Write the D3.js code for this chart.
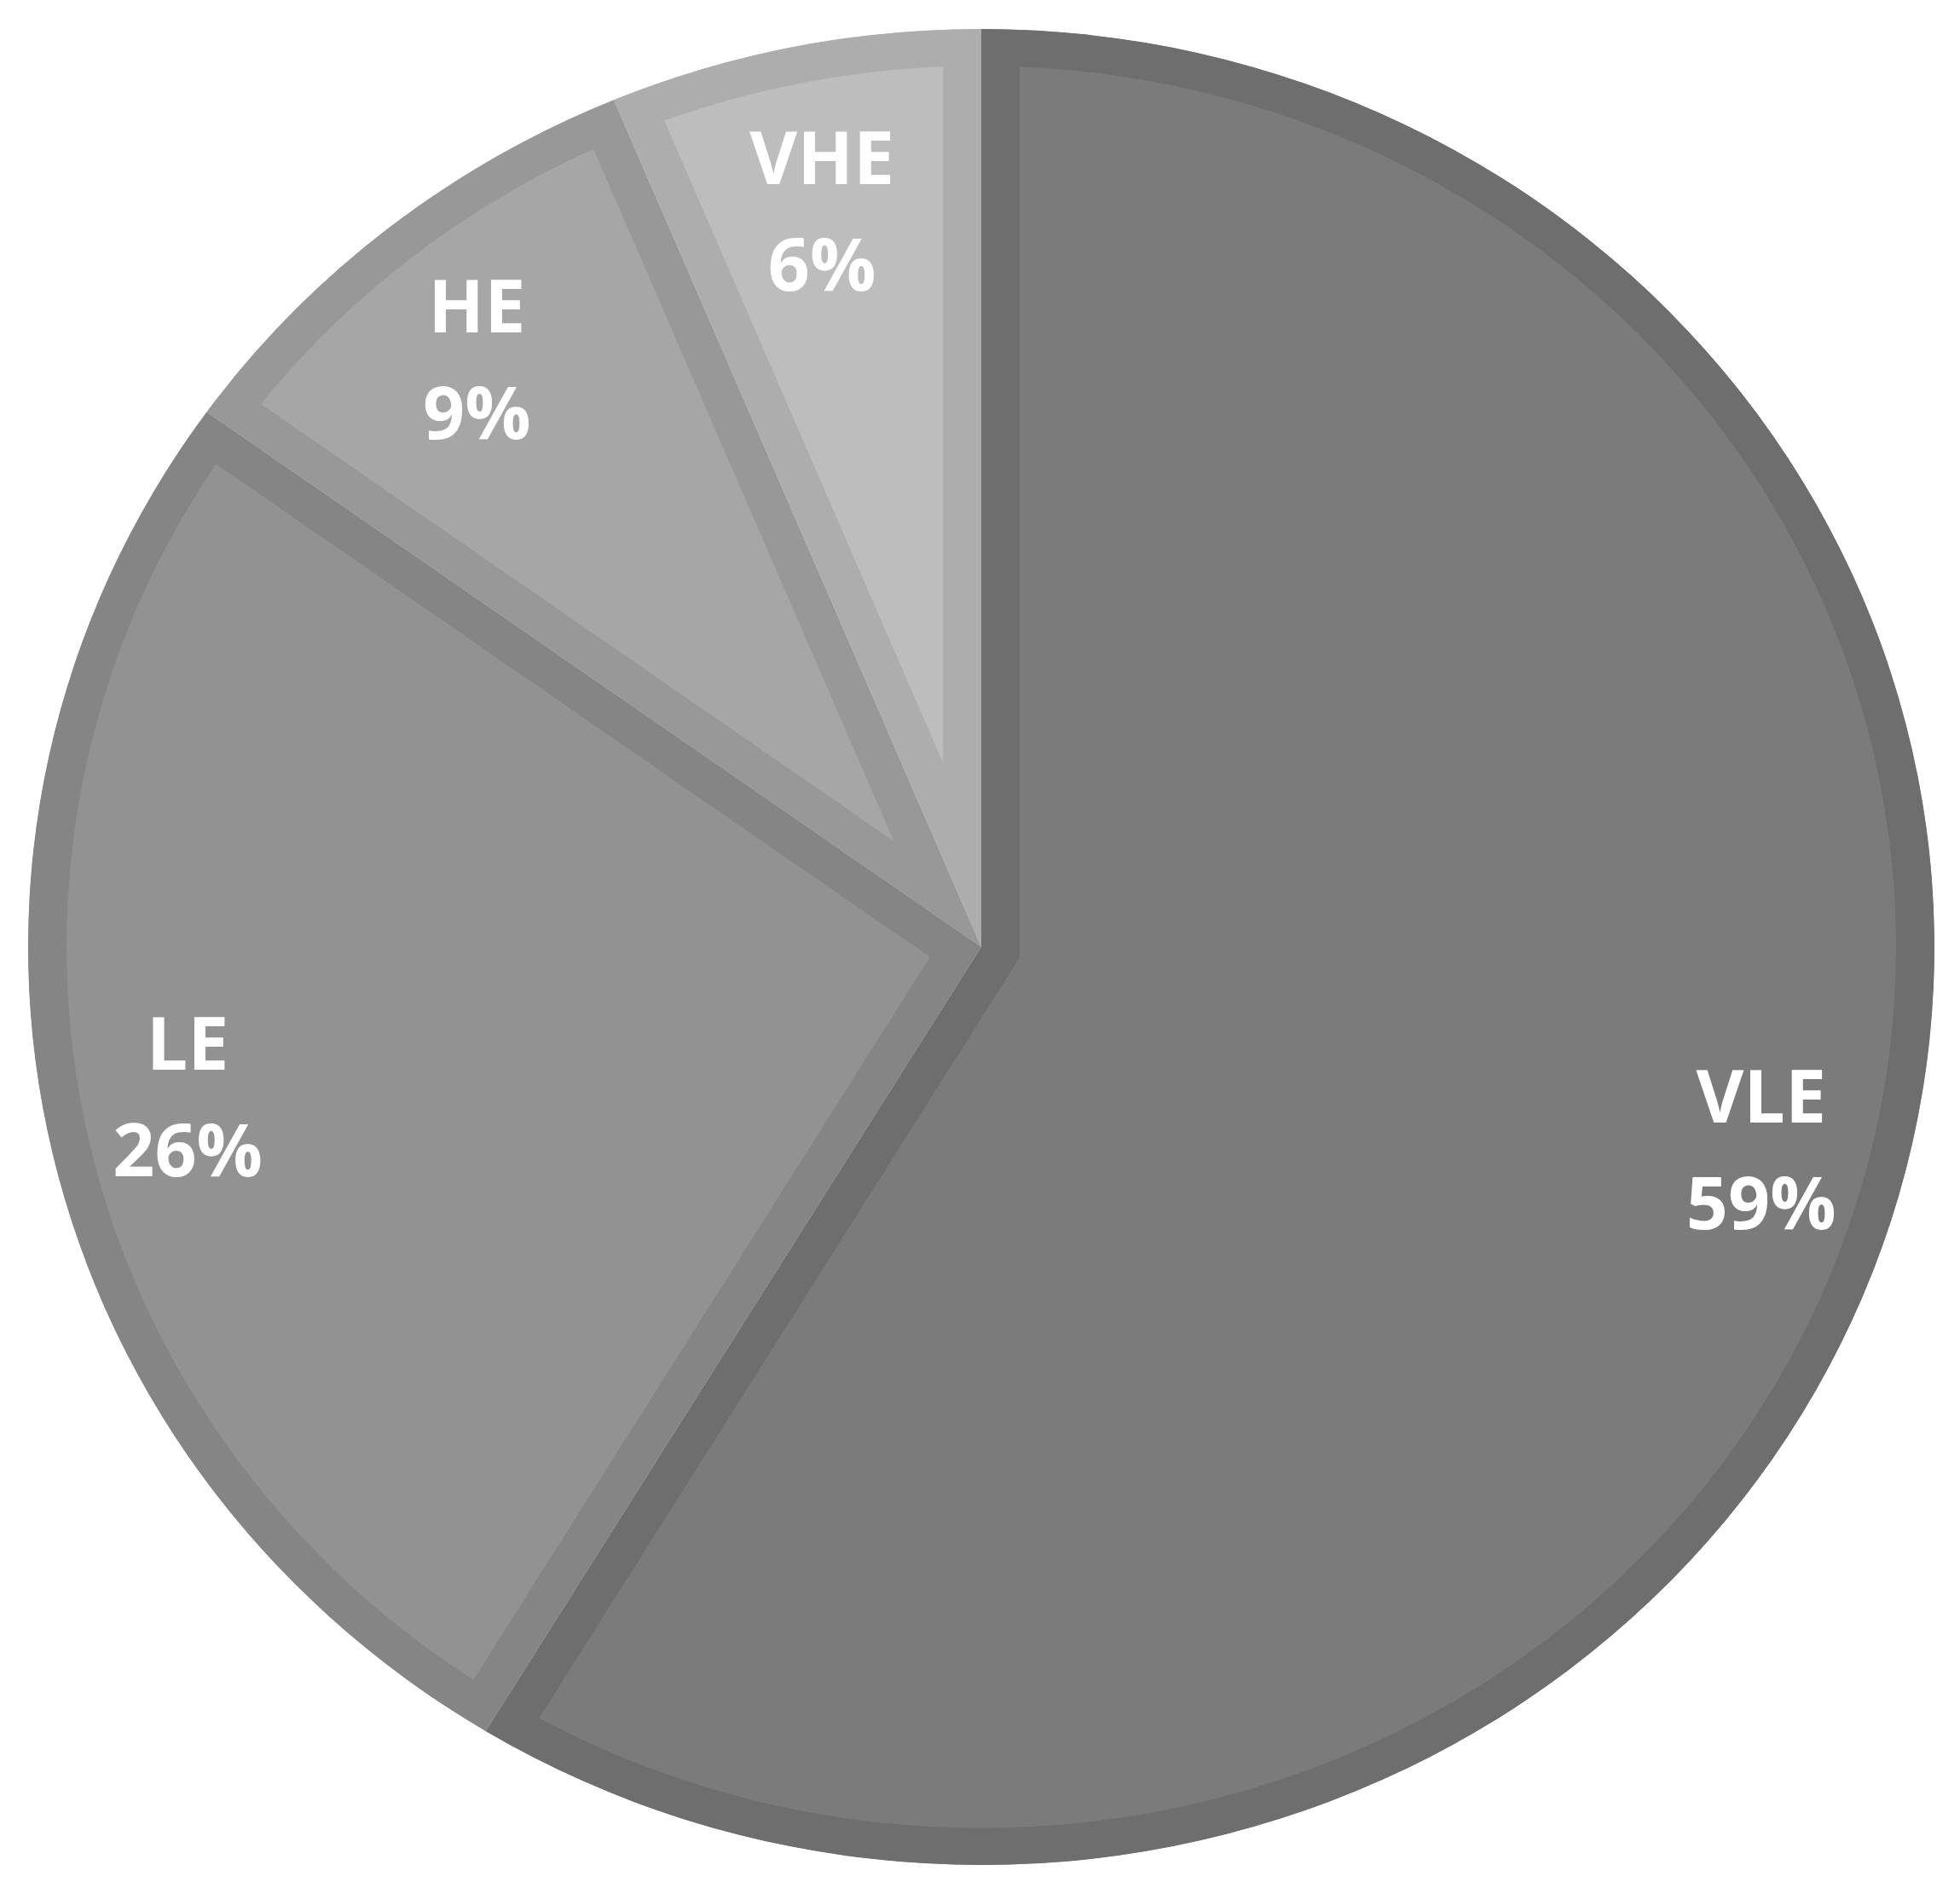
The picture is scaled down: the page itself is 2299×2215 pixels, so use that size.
<!DOCTYPE html>
<html>
<head>
<meta charset="utf-8">
<script src="https://cdn.jsdelivr.net/npm/d3@7"></script>
<style>
  body { margin: 0; background: #fff; }
  svg { display: block; }
</style>
</head>
<body>
<svg id="paper"></svg>
<script>
// data (slice angles), labels shown rounded
const categories = ["VLE", "LE", "HE", "VHE"];
const shares = [58.7, 26.2, 8.8, 6.3];
const fills = ["#7b7b7b", "#929292", "#a6a6a6", "#bdbdbd"];
const borders = ["#6e6e6e", "#858585", "#989898", "#adadad"];

var width = 2299, height = 2215;
var cx = 1151, cy = 1111,
    rx = 1118, ry = 1077;
var border = 45;
// labels sit on a smaller ellipse inside the pie
var labelRx = 950, labelRy = 880;

var svg = d3.select("#paper")
    .attr("width", width)
    .attr("height", height);

var pie = d3.pie().sort(null).value(d => d.value);
var arcs = pie(categories.map((c, i) => ({name: c, value: shares[i], i: i})));

var arc = d3.arc().innerRadius(0).outerRadius(rx);
var unitArc = d3.arc().innerRadius(1).outerRadius(1);

var defs = svg.append("defs");
defs.selectAll("clipPath")
    .data(arcs)
    .enter().append("clipPath")
    .attr("id", d => "clip" + d.data.i)
    .append("path")
    .attr("d", arc);

// the pie is slightly squashed vertically in the picture
var g = svg.append("g")
    .attr("transform", "translate(" + cx + "," + cy + ") scale(1," + (ry / rx) + ")");

g.selectAll(".slice")
    .data(arcs)
    .enter().append("path")
    .attr("class", "slice")
    .attr("d", arc)
    .attr("fill", d => fills[d.data.i])
    .attr("stroke", d => borders[d.data.i])
    .attr("stroke-width", border * 2)
    .attr("stroke-linejoin", "miter")
    .attr("clip-path", d => "url(#clip" + d.data.i + ")");

// labels
var lab = svg.append("g")
    .attr("transform", "translate(" + cx + "," + cy + ")");

var text = lab.selectAll("text")
    .data(arcs)
    .enter().append("text")
    .attr("transform", d => {
        var c = unitArc.centroid(d);
        return "translate(" + (c[0] * labelRx) + "," + (c[1] * labelRy) + ")";
    })
    .attr("text-anchor", "middle")
    .attr("fill", "#ffffff")
    .style("font-family", "'Open Sans', sans-serif")
    .style("font-weight", "bold")
    .style("font-size", "86px");

text.append("tspan")
    .attr("x", 0)
    .attr("y", -32)
    .text(d => d.data.name);

text.append("tspan")
    .attr("x", 0)
    .attr("y", 93)
    .text(d => Math.round(d.data.value) + "%");
</script>
</body>
</html>
